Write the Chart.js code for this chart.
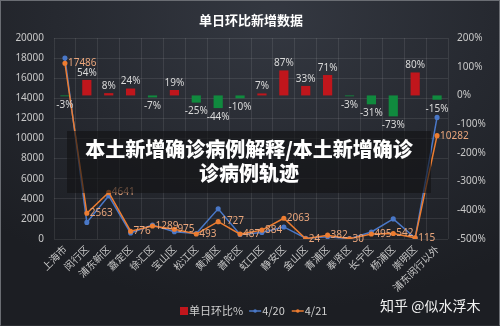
<!DOCTYPE html>
<html>
<head>
<meta charset="utf-8">
<script src="https://cdn.jsdelivr.net/npm/chart.js@4/dist/chart.umd.min.js"></script>
<style>
  html, body { margin: 0; padding: 0; }
  body {
    width: 500px; height: 326px; overflow: hidden; position: relative;
    background: radial-gradient(ellipse 80% 90% at 55% 5%, #343841 0%, #262930 55%, #1c1e23 100%);
    font-family: "Noto Sans CJK SC", "Noto Sans", sans-serif;
  }
  #frame { position: absolute; left: 0; top: 0; width: 498px; height: 324px; border: 1px solid #6a6d73; border-bottom-color: #2a2c31; }
  #wrap { position: absolute; left: 0; top: 0; width: 500px; height: 326px; }
  #banner {
    position: absolute; left: 67px; top: 131px; width: 364px; height: 62px;
    background: rgba(18, 18, 20, 0.62);
    color: #fff; font-weight: 900; font-size: 20px; line-height: 24px;
    text-align: center; padding-top: 6px; box-sizing: border-box; white-space: nowrap;
  }
  #mark {
    position: absolute; left: 380px; top: 295px; color: #f2f2f2; font-size: 14px;
  }
</style>
</head>
<body>
<div id="wrap"><canvas id="c"></canvas></div>
<div id="frame"></div>
<div id="banner">本土新增确诊病例解释/本土新增确诊<br>诊病例轨迹</div>
<div id="mark">知乎 @似水浮木</div>
<script>
// 区县
const districts = ['上海市', '闵行区', '浦东新区', '嘉定区', '徐汇区', '宝山区', '松江区', '黄浦区', '普陀区',
    '虹口区', '静安区', '金山区', '青浦区', '奉贤区', '长宁区', '杨浦区', '崇明区', '浦东闵行以外'];
// 单日环比 %
const ratio = [-3, 54, 8, 24, -7, 19, -25, -44, -10, 7, 87, 33, 71, -3, -31, -73, 80, -15];
// 4/20 新增
const day0420 = [18000, 1650, 4300, 600, 1380, 730, 550, 3000, 450, 650, 1200, 80, 220, 40, 700, 2000, 100, 12100];
// 4/21 新增
const day0421 = [17486, 2563, 4641, 776, 1289, 975, 493, 1727, 487, 884, 2063, 24, 382, 30, 495, 542, 115, 10282];

const leftTicks = [0, 20000, 2000];
const rightTicks = [-500, 200, 100];

const gridColor = 'rgba(255, 255, 255, 0.09)';
const tickColor = '#c8c8c8';
const red = '#c0161c', green = '#108a3e', blue = '#4a78c8', orange = '#ed7d31';

// 数据标签 + 标题 + 图例
const labelPlugin = {
    id: 'labels',
    afterDatasetsDraw(chart) {
        const ctx = chart.ctx;
        ctx.save();
        ctx.font = '10px "Noto Sans", "DejaVu Sans", sans-serif';
        const barMeta = chart.getDatasetMeta(0);
        ctx.fillStyle = '#d9d9d9';
        ctx.textAlign = 'center';
        barMeta.data.forEach((el, i) => {
            const v = ratio[i];
            if (v >= 0) {
                ctx.textBaseline = 'bottom';
                ctx.fillText(v + '%', el.x, el.y - 2);
            } else {
                ctx.textBaseline = 'top';
                ctx.fillText(v + '%', el.x, el.y + 4);
            }
        });
        const lineMeta = chart.getDatasetMeta(2);
        ctx.fillStyle = '#eaa67c';
        ctx.textAlign = 'left';
        ctx.textBaseline = 'middle';
        lineMeta.data.forEach((el, i) => {
            ctx.fillText(day0421[i], el.x + 3, el.y);
        });

        // 标题
        ctx.fillStyle = '#ffffff';
        ctx.font = 'bold 13px "Noto Sans CJK SC", sans-serif';
        ctx.textAlign = 'center';
        ctx.fillText('单日环比新增数据', (chart.chartArea.left + chart.chartArea.right) / 2, 20);

        // 图例
        const ly = 311;
        let lx = 180;
        ctx.font = '11px "Noto Sans CJK SC", sans-serif';
        ctx.textAlign = 'left';
        ctx.fillStyle = red;
        ctx.fillRect(lx, ly - 4, 8, 8);
        ctx.fillStyle = '#d0d0d0';
        ctx.fillText('单日环比%', lx + 9, ly);
        lx += 9 + ctx.measureText('单日环比%').width + 6;
        [[blue, '4/20'], [orange, '4/21']].forEach(([c, t]) => {
            ctx.strokeStyle = c;
            ctx.lineWidth = 1.5;
            ctx.beginPath();
            ctx.moveTo(lx, ly);
            ctx.lineTo(lx + 12, ly);
            ctx.stroke();
            ctx.fillStyle = c;
            ctx.beginPath();
            ctx.arc(lx + 6, ly, 1.8, 0, Math.PI * 2);
            ctx.fill();
            ctx.fillStyle = '#d0d0d0';
            ctx.fillText(t, lx + 13, ly);
            lx += 13 + ctx.measureText(t).width + 7;
        });
        ctx.restore();
    }
};

new Chart(document.getElementById('c'), {
    data: {
        labels: districts,
        datasets: [{
            type: 'bar',
            label: '单日环比%',
            data: ratio,
            yAxisID: 'y1',
            backgroundColor: ratio.map(v => v >= 0 ? red : green),
            barPercentage: 0.42,
            categoryPercentage: 1,
            order: 3
        }, {
            type: 'line',
            label: '4/20',
            data: day0420,
            yAxisID: 'y',
            borderColor: blue,
            backgroundColor: blue,
            borderWidth: 1.5,
            pointRadius: 1.8,
            tension: 0,
            order: 2
        }, {
            type: 'line',
            label: '4/21',
            data: day0421,
            yAxisID: 'y',
            borderColor: orange,
            backgroundColor: orange,
            borderWidth: 1.5,
            pointRadius: 1.8,
            tension: 0,
            order: 1
        }]
    },
    options: {
        responsive: true,
        maintainAspectRatio: false,
        animation: false,
        layout: { padding: { top: 38, left: 0, right: 0, bottom: 32 } },
        plugins: {
            legend: { display: false },
            tooltip: { enabled: false }
        },
        scales: {
            x: {
                grid: { color: gridColor, drawTicks: false, offset: true },
                border: { display: false },
                ticks: {
                    color: tickColor,
                    font: { size: 10, family: '"Noto Sans CJK SC", sans-serif' },
                    minRotation: 45,
                    maxRotation: 45,
                    padding: 4,
                    autoSkip: false
                },
                afterFit: s => { s.height = 55; }
            },
            y: {
                position: 'left',
                min: leftTicks[0],
                max: leftTicks[1],
                grid: { color: gridColor, drawTicks: false },
                border: { display: false },
                ticks: {
                    stepSize: leftTicks[2],
                    color: tickColor,
                    font: { size: 10, family: '"Noto Sans", sans-serif' },
                    padding: 10,
                    callback: v => String(v)
                },
                afterFit: s => { s.width = 54; }
            },
            y1: {
                position: 'right',
                min: rightTicks[0],
                max: rightTicks[1],
                grid: { display: false, drawTicks: false },
                border: { display: false },
                ticks: {
                    stepSize: rightTicks[2],
                    color: tickColor,
                    font: { size: 10, family: '"Noto Sans", sans-serif' },
                    padding: 9,
                    callback: v => v + '%'
                },
                afterFit: s => { s.width = 52; }
            }
        }
    },
    plugins: [labelPlugin]
});
</script>
</body>
</html>
